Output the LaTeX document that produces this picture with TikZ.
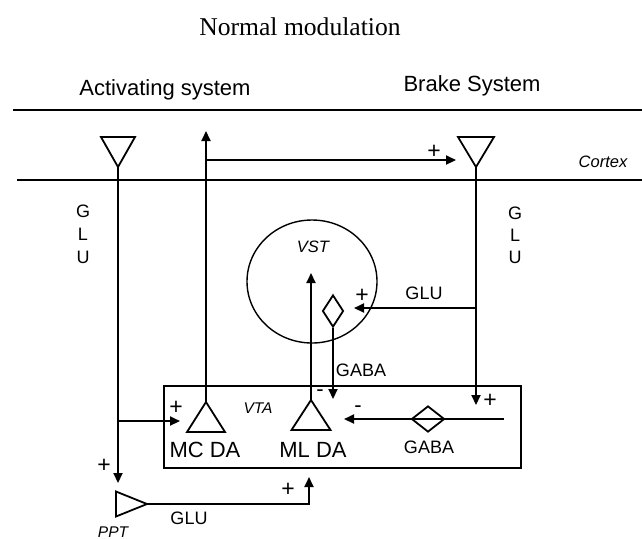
\documentclass[tikz,border=0pt]{standalone}
\usepackage{fontspec}
\setmainfont{Liberation Serif}
\setsansfont{Liberation Sans}
\usetikzlibrary{arrows.meta,shapes.geometric}
\begin{document}
\begin{tikzpicture}[x=0.5pt,y=-0.5pt,
  lbl/.style={font=\sffamily\fontsize{9}{10}\selectfont, inner sep=0pt},
  big/.style={font=\sffamily\fontsize{11}{12}\selectfont, inner sep=0pt},
  ital/.style={font=\sffamily\itshape\fontsize{8.25}{9}\selectfont, inner sep=0pt},
  sitl/.style={font=\sffamily\itshape\fontsize{7.75}{9}\selectfont, inner sep=0pt},
  sign/.style={font=\sffamily\fontsize{11.5}{12}\selectfont, inner sep=0pt},
  msign/.style={font=\sffamily\fontsize{11}{12}\selectfont, inner sep=0pt},
  wire/.style={line width=1pt},
  arr/.style={line width=1pt, -{Triangle[length=5pt,width=4.5pt]}},
  cell/.style={line width=0.9pt, line join=miter},
  dia/.style={draw, diamond, line width=0.9pt, inner sep=0pt}
]
\useasboundingbox (0,0) rectangle (642,538);

% title and headings
\node[font=\rmfamily\fontsize{12.8}{14}\selectfont, inner sep=0pt] (title) at (300,27) {Normal modulation};
\node[big] (act) at (165,90) {Activating system};
\node[big] (brk) at (472,86) {Brake System};

% cortex layer lines
\coordinate (l1a) at (13,109.5); \coordinate (l1b) at (642,109.5);
\coordinate (l2a) at (17,179.5); \coordinate (l2b) at (642,179.5);
\draw[wire] (l1a) -- (l1b);
\draw[wire] (l2a) -- (l2b);
\node[ital] (cortex) at (603,162) {Cortex};

% left (activating) cortical neuron
\coordinate (LT) at (118,167);
\draw[cell] (LT) -- ++(-17,-30) -- ++(34,0) -- cycle;
\coordinate (LA) at (118,483);
\coordinate (LB) at (118,421);
\coordinate (MCin) at (180,421);
\draw[arr] (LT) -- (LA);
\draw[arr] (LB) -- (MCin);
\node[lbl] (g1) at (83,211) {G};
\node[lbl] (l1) at (83,234) {L};
\node[lbl] (u1) at (83,257) {U};
\node[sign] (p1) at (176,408) {+};
\node[sign] (p2) at (104,466) {+};

% right (brake) cortical neuron
\coordinate (RT) at (476,167);
\draw[cell] (RT) -- ++(-18,-30) -- ++(36,0) -- cycle;
\coordinate (RA) at (476,405);
\draw[arr] (RT) -- (RA);
\node[lbl] (g2) at (515,213) {G};
\node[lbl] (l2) at (515,235) {L};
\node[lbl] (u2) at (515,257) {U};
\node[sign] (p3) at (490,401) {+};

% MC DA neuron and its projection
\coordinate (MC) at (206,402);
\draw[cell] (MC) -- ++(-19,30) -- ++(38,0) -- cycle;
\coordinate (MCup) at (206,131);
\draw[arr] (MC) -- (MCup);
\coordinate (MCh) at (206,160);
\coordinate (RTin) at (456,160);
\draw[arr] (MCh) -- (RTin);
\node[sign] (p4) at (434,152) {+};

% VST
\node[draw, ellipse, line width=0.7pt, minimum width=65pt, minimum height=61.5pt, inner sep=0pt] (vst) at (312,281.5) {};
\node[ital] (vstl) at (313,247) {VST};
\node[dia, minimum width=10.5pt, minimum height=16pt] (dv) at (333,311) {};
\coordinate (RG) at (476,308);
\coordinate (VSTin) at (354,308);
\draw[arr] (RG) -- (VSTin);
\node[lbl] (glu1) at (424,293) {GLU};
\node[sign] (p5) at (362,296) {+};
\coordinate (DVin) at (333,399);
\draw[arr] (dv.south) -- (DVin);
\node[lbl] (gaba1) at (361,370) {GABA};

% VTA box
\node[draw, line width=0.7pt, minimum width=178.5pt, minimum height=41pt, inner sep=0pt] (vta) at (342.5,427) {};
\node[sitl] (vtal) at (258,408) {VTA};
\node[big] (mcda) at (205,450) {MC DA};
\node[big] (mlda) at (313,450) {ML DA};

% ML DA neuron
\coordinate (ML) at (311,400);
\draw[cell] (ML) -- ++(-19.5,30) -- ++(39,0) -- cycle;
\coordinate (MLup) at (311,273);
\draw[arr] (ML) -- (MLup);
\node[msign] (m1) at (320,393) {-};

% GABA interneuron in VTA
\coordinate (GBs) at (504,419);
\coordinate (MLin) at (344,419);
\draw[arr] (GBs) -- (MLin);
\node[dia, minimum width=16.5pt, minimum height=13pt] (dh) at (428,419) {};
\node[msign] (m2) at (358,409) {-};
\node[lbl] (gaba2) at (429,447) {GABA};

% PPT
\coordinate (PPT) at (147,504);
\draw[cell] (PPT) -- ++(-31,-12.5) -- ++(0,25) -- cycle;
\node[sitl] (pptl) at (113,532) {PPT};
\coordinate (PPc) at (309,504);
\coordinate (MLb) at (309,477);
\draw[arr] (PPT) -- (PPc) -- (MLb);
\node[sign] (p6) at (288,490) {+};
\node[lbl] (glu2) at (189,518) {GLU};
\end{tikzpicture}
\end{document}
